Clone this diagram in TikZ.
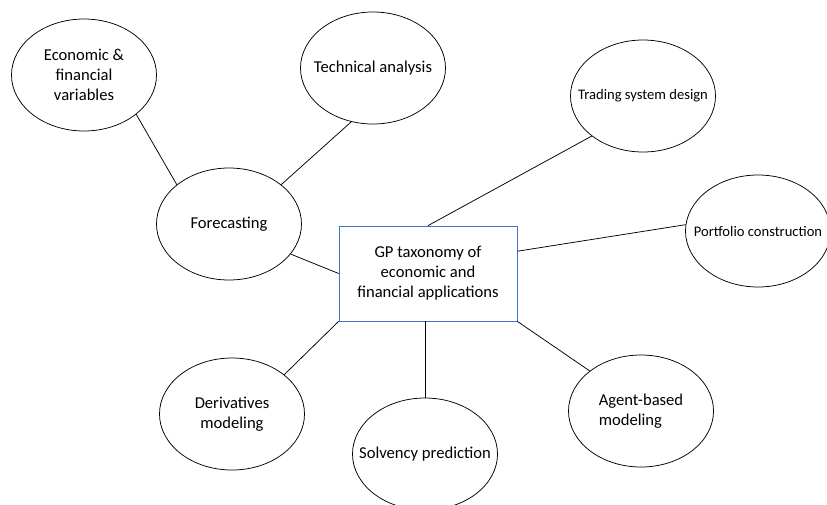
\documentclass[tikz,border=0pt]{standalone}
\usepackage{fontspec}
\setmainfont{Carlito}
\usetikzlibrary{shapes.geometric}
\definecolor{boxblue}{RGB}{68,114,196}

\begin{document}
\begin{tikzpicture}[x=1pt,y=-1pt,line width=0.75pt,font=\fontsize{16.6}{20}\selectfont,
  bubble/.style={draw, ellipse, minimum width=145pt, minimum height=112pt, inner xsep=-20pt, inner ysep=0pt, align=center},
  hub/.style={draw=boxblue, minimum width=178pt, minimum height=95pt, align=center},
  small/.style={font=\fontsize{14.6}{17.5}\selectfont}]
\useasboundingbox (0,0) rectangle (827,504);

\node[hub] (gp) at (428,273.5) {GP taxonomy of\\economic and\\financial applications};

\node[bubble] (econ) at (84,75) {Economic \&\\financial\\variables};
\node[bubble] (tech) at (373,68) {Technical analysis};
\node[bubble] (fore) at (229,224) {Forecasting};
\node[bubble,small] (trade) at (643,96) {Trading system design};
\node[bubble,small] (port) at (758,231) {Portfolio construction};
\node[bubble] (deriv) at (232,414) {Derivatives\\modeling};
\node[bubble] (solv) at (425,454) {Solvency prediction};
\node[bubble,align=left] (agent) at (641,411) {Agent-based\\modeling};

% forecasting branch
\draw (econ.323) -- (fore.143);
\draw (tech.248) -- (fore.37);
\draw (fore.334) -- (gp.west);

% the rest hang off the box
\draw (trade.218) -- (gp.north);
\draw (port.175) -- (gp.14);
\draw (deriv.37) -- (gp.south west);
\draw (solv.north) -- (solv.north |- gp.south);
\draw (agent.142) -- (gp.south east);
\end{tikzpicture}
\end{document}
